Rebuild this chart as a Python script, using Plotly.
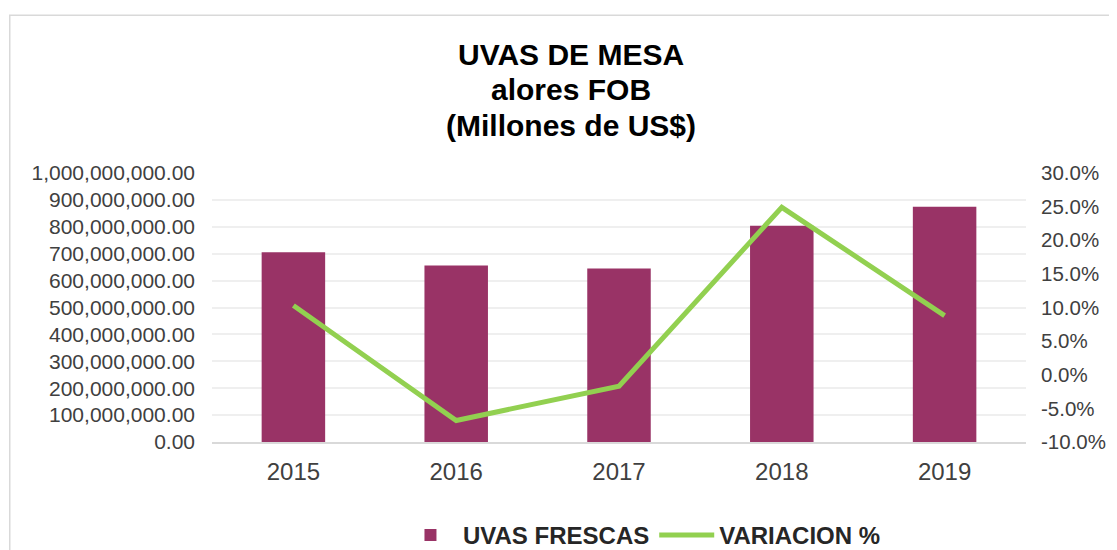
import plotly.graph_objects as go

years = ["2015", "2016", "2017", "2018", "2019"]
fob_values = [705e6, 656e6, 645e6, 804e6, 875e6]
variation = [0.103, -0.068, -0.017, 0.249, 0.088]
left_ticks = [i * 100e6 for i in range(11)]
right_ticks = [-0.10, -0.05, 0.0, 0.05, 0.10, 0.15, 0.20, 0.25, 0.30]
right_tick_text = [f"{v * 100:.1f}%" for v in right_ticks]
title_lines = ["UVAS DE MESA", "alores FOB", "(Millones de US$)"]

fig = go.Figure()
fig.add_trace(go.Bar(
    x=years, y=fob_values, name="UVAS FRESCAS",
    marker=dict(color="#993366", line=dict(width=0)),
    yaxis="y",
))
fig.add_trace(go.Scatter(
    x=years, y=variation, name="VARIACION %", mode="lines",
    line=dict(color="#92D050", width=5),
    yaxis="y2",
))

font_family = "Liberation Sans, Arial, sans-serif"
OFF = 8  # page body margin
W, H = 1117 - OFF, 550 - OFF
# plot area in page pixels: x 211.5..1026.5, y 172.7..441.7
pl, pr, pt, pb = 211.5, 1026.5, 172.7, 441.7
ml = pl - OFF
mt = pt - OFF
mr = W - (pr - OFF)
mb = H - (pb - OFF)
plot_w = pr - pl
plot_h = pb - pt


def px_to_paper(px):
    return (px - pl) / plot_w


def py_to_paper(py):
    return (pb - py) / plot_h


annotations = []
for line, cy in zip(title_lines, [54, 89, 125]):
    annotations.append(dict(
        text="<b>" + line + "</b>", xref="paper", yref="paper",
        x=px_to_paper(571), y=py_to_paper(cy),
        xanchor="center", yanchor="middle", showarrow=False,
        font=dict(family=font_family, size=30, color="black"),
    ))

fig.update_layout(
    width=W, height=H,
    margin=dict(l=ml, r=mr, t=mt, b=mb, autoexpand=False),
    paper_bgcolor="white", plot_bgcolor="white",
    bargap=0.61,
    font=dict(family=font_family, color="#404040"),
    annotations=annotations,
    xaxis=dict(
        showgrid=False, showline=True, linecolor="#d9d9d9", linewidth=2,
        tickfont=dict(size=24, color="#404040"), ticks="",
        ticklabelstandoff=7, automargin=False,
    ),
    yaxis=dict(
        range=[0, 1e9], tickvals=left_ticks, tickformat=",.2f",
        showgrid=True, gridcolor="#efefef", gridwidth=2,
        zeroline=False, showline=False, automargin=False,
        tickfont=dict(size=21, color="#404040"), ticklabelstandoff=16,
    ),
    yaxis2=dict(
        range=[-0.10, 0.30], tickvals=right_ticks, ticktext=right_tick_text,
        overlaying="y", side="right", showgrid=False, zeroline=False,
        automargin=False,
        tickfont=dict(size=20.5, color="#404040"), ticklabelstandoff=14,
    ),
    legend=dict(
        orientation="h", x=px_to_paper(642), xanchor="center",
        y=py_to_paper(535), yanchor="middle",
        font=dict(size=24, color="#262626", weight="bold"),
        bgcolor="rgba(0,0,0,0)", itemwidth=55,
    ),
    shapes=[dict(
        type="rect", xref="paper", yref="paper",
        x0=px_to_paper(9), x1=1.3, y0=-0.6, y1=py_to_paper(15),
        line=dict(color="#d9d9d9", width=1.5), fillcolor="rgba(0,0,0,0)",
        layer="below",
    )],
)

fig.write_html("out.html")
